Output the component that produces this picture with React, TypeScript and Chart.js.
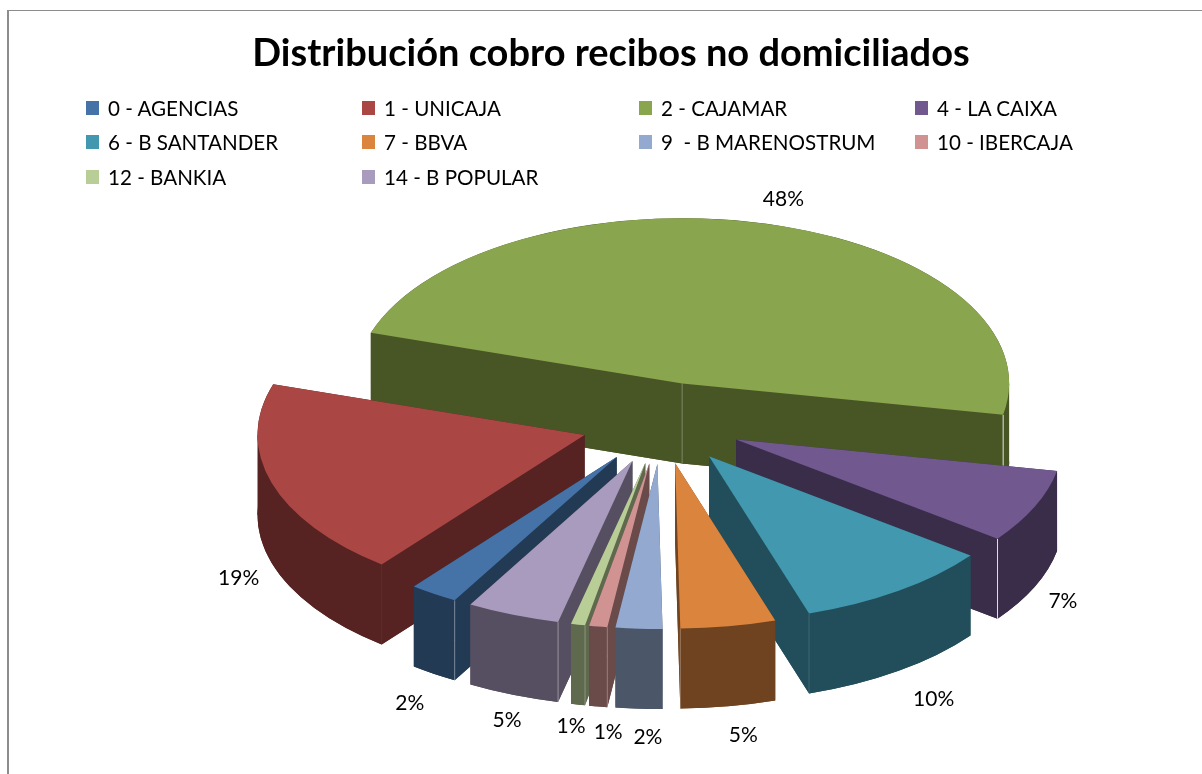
import React, { useEffect, useRef } from "react";
import { Chart, registerables } from "chart.js";

Chart.register(...registerables);

const titleText = "Distribución cobro recibos no domiciliados";
const categories = [
  "0 - AGENCIAS", "1 - UNICAJA", "2 - CAJAMAR", "4 - LA CAIXA", "6 - B SANTANDER",
  "7 - BBVA", "9  - B MARENOSTRUM", "10 - IBERCAJA", "12 - BANKIA", "14 - B POPULAR",
];
const shares = [2.4, 19.3, 48.1, 7.2, 9.8, 4.7, 2.3, 0.9, 0.7, 4.6];
const topColors = [
  "#4572a7", "#aa4643", "#89a54e", "#71588f", "#4198af",
  "#db843d", "#93a9cf", "#d19392", "#b9cd96", "#a99bbd",
];
const wallColors = [
  "#233a55", "#562322", "#485525", "#3a2d4a", "#214e5a",
  "#6f4320", "#4b5669", "#6b4b4a", "#5e694d", "#564f61",
];
const seamAlpha = [0.4, 0.05, 0.85, 0.85, 0.15, 0.3, 0.3, 0.3, 0.3, 0.4];
const labelNudgeX = [-24, -33, 20, 28, 35, 15, 9, 10, -7, -6];
const labelNudgeY = [109, 95, -24, 95, 108, 109, 109, 106, 102, 105];

const legendColumns = [86, 362, 639, 915];
const legendRows = [101, 135, 170];

const CENTER_X = 662;
const CENTER_Y = 423;
const TILT = 0.505;
const EXPLODE = 81;
const DEPTH = 80;
const RADIUS = 327;

const pie3d = {
  id: "pie3d",
  beforeDatasetDraw(chart: any, args: any) {
    const ctx = chart.ctx;
    const arcs: any[] = args.meta.data;
    const mid = (a: any) => (a.startAngle + a.endAngle) / 2;
    const apexX = (a: any) => CENTER_X + Math.cos(mid(a)) * EXPLODE;
    const apexY = (a: any) => CENTER_Y + TILT * Math.sin(mid(a)) * EXPLODE;
    const rimX = (a: any, t: number) => apexX(a) + Math.cos(t) * RADIUS;
    const rimY = (a: any, t: number) => apexY(a) + TILT * Math.sin(t) * RADIUS;

    const paint = (arc: any, color: string, drop: number) => {
      const view = Object.create(arc);
      view.options = {
        backgroundColor: color, borderColor: color, borderWidth: 0,
        offset: 0, spacing: 0, circular: true, borderAlign: "center",
      };
      ctx.save();
      ctx.translate(CENTER_X, CENTER_Y + drop);
      ctx.scale(1, TILT);
      ctx.translate(Math.cos(mid(arc)) * EXPLODE, Math.sin(mid(arc)) * EXPLODE);
      ctx.translate(-arc.x, -arc.y);
      view.draw(ctx);
      ctx.restore();
    };

    const walls = (arc: any, color: string) => {
      ctx.save();
      ctx.fillStyle = color;
      // Radial cut faces, plus the silhouette of the rim where it turns at its left/right extreme.
      const faces = [arc.startAngle, arc.endAngle];
      for (let n = Math.ceil(arc.startAngle / Math.PI); n * Math.PI <= arc.endAngle; n++) faces.push(n * Math.PI);
      for (const t of faces) {
        ctx.beginPath();
        ctx.moveTo(apexX(arc), apexY(arc));
        ctx.lineTo(rimX(arc, t), rimY(arc, t));
        ctx.lineTo(rimX(arc, t), rimY(arc, t) + DEPTH);
        ctx.lineTo(apexX(arc), apexY(arc) + DEPTH);
        ctx.closePath();
        ctx.fill();
      }
      ctx.beginPath();
      ctx.ellipse(apexX(arc), apexY(arc), RADIUS, RADIUS * TILT, 0, arc.startAngle, arc.endAngle);
      ctx.ellipse(apexX(arc), apexY(arc) + DEPTH, RADIUS, RADIUS * TILT, 0, arc.endAngle, arc.startAngle, true);
      ctx.closePath();
      ctx.fill();
      ctx.restore();
    };

    const seam = (x: number, y: number, alpha: number) => {
      ctx.save();
      ctx.strokeStyle = `rgba(255,255,255,${alpha})`;
      ctx.lineWidth = 1;
      ctx.beginPath();
      ctx.moveTo(x, y);
      ctx.lineTo(x, y + DEPTH);
      ctx.stroke();
      ctx.restore();
    };

    const order = arcs
      .map((_, i) => i)
      .sort((a, b) => Math.sin(mid(arcs[a])) - Math.sin(mid(arcs[b])));

    for (const i of order) {
      const arc = arcs[i];
      paint(arc, wallColors[i], DEPTH);
      walls(arc, wallColors[i]);
      const startVisible = Math.cos(arc.startAngle) < 0;
      const endVisible = Math.cos(arc.endAngle) > 0;
      if (startVisible && !endVisible) seam(rimX(arc, arc.startAngle), rimY(arc, arc.startAngle), seamAlpha[i]);
      if (endVisible) seam(rimX(arc, arc.endAngle), rimY(arc, arc.endAngle), seamAlpha[i]);
      if (startVisible && endVisible) seam(apexX(arc), apexY(arc), 0.3);
    }
    for (const i of order) paint(arcs[i], topColors[i], 0);

    ctx.save();
    ctx.fillStyle = "#000";
    ctx.font = "21px Lato";
    ctx.textAlign = "center";
    ctx.textBaseline = "middle";
    arcs.forEach((arc, i) => {
      const m = mid(arc);
      const x = CENTER_X + Math.cos(m) * (EXPLODE + RADIUS) + labelNudgeX[i];
      const y = CENTER_Y + TILT * Math.sin(m) * (EXPLODE + RADIUS) + labelNudgeY[i];
      ctx.fillText(`${Math.round(shares[i])}%`, x, y);
    });
    ctx.restore();
    return false;
  },
};

export default function App() {
  const ref = useRef<HTMLCanvasElement>(null);

  useEffect(() => {
    const chart = new Chart(ref.current as HTMLCanvasElement, {
      type: "pie",
      data: {
        labels: categories,
        datasets: [{ data: shares, backgroundColor: topColors, borderWidth: 0, radius: RADIUS } as any],
      },
      options: {
        responsive: false,
        animation: false,
        rotation: -150.3,
        plugins: {
          legend: { display: false },
          tooltip: { enabled: false },
          title: {
            display: true,
            text: titleText,
            color: "#000",
            font: { family: "Lato", size: 38, weight: "bold" },
            padding: { top: 31, bottom: 0 },
          },
        },
      } as any,
      plugins: [pie3d],
    });
    return () => chart.destroy();
  }, []);

  return (
    <div style={{ position: "fixed", inset: 0, overflow: "hidden", background: "#fff" }}>
      <canvas ref={ref} width={1222} height={774} style={{ position: "absolute", left: 0, top: 0 }} />
      <div style={{
        position: "absolute", left: 7, top: 10, right: 0, bottom: 0,
        borderLeft: "2px solid #8c8c8c", borderTop: "1px solid #8c8c8c",
      }} />
      {categories.map((name, i) => {
        const col = i < 8 ? i % 4 : i - 8;
        const row = Math.floor(i / 4);
        return (
          <React.Fragment key={name}>
            <div style={{
              position: "absolute", left: legendColumns[col], top: legendRows[row],
              width: 13, height: 14, background: topColors[i],
            }} />
            <div style={{
              position: "absolute", left: legendColumns[col] + 22, top: legendRows[row] - 6,
              height: 26, lineHeight: "26px", fontFamily: "Lato", fontSize: 20.6,
              color: "#000", whiteSpace: "pre",
            }}>{name}</div>
          </React.Fragment>
        );
      })}
    </div>
  );
}
